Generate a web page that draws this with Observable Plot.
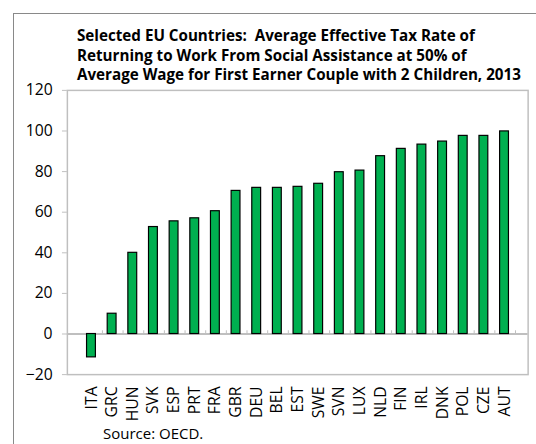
<!DOCTYPE html>
<html>
<head>
<meta charset="utf-8">
<script src="https://cdn.jsdelivr.net/npm/d3@7"></script>
<script src="https://cdn.jsdelivr.net/npm/@observablehq/plot@0.6"></script>
<style>
  html, body { margin: 0; padding: 0; background: #fff; }
  #wrap { position: relative; width: 536px; height: 444px; overflow: hidden; background: #fff; font-family: "Open Sans", sans-serif; }
  #outer { position: absolute; left: 13px; top: 13px; width: 600px; height: 500px; border: 1px solid #898989; box-sizing: border-box; }
  #title { position: absolute; left: 77px; top: 26px; font-weight: bold; font-size: 15.2px; line-height: 19.5px; color: #000; white-space: nowrap; }
  #chart { position: absolute; left: 0; top: 84px; }
  #source { position: absolute; left: 103px; top: 425px; font-size: 15px; line-height: 17px; color: #000; white-space: nowrap; }
</style>
</head>
<body>
<div id="wrap">
  <div id="outer"></div>
  <div id="title">Selected EU Countries:&nbsp; Average Effective Tax Rate of<br>Returning to Work From Social Assistance at 50% of<br>Average Wage for First Earner Couple with 2 Children, 2013</div>
  <div id="chart"></div>
  <div id="source">Source: OECD.</div>
</div>
<script>
const countries = ["ITA","GRC","HUN","SVK","ESP","PRT","FRA","GBR","DEU","BEL","EST","SWE","SVN","LUX","NLD","FIN","IRL","DNK","POL","CZE","AUT"];
const values = [-11.5, 10, 40, 52.7, 55.5, 57, 60.5, 70.5, 72, 72, 72.5, 74, 79.7, 80.5, 87.6, 91.2, 93.3, 94.8, 97.6, 97.6, 99.8];
const yTicks = [-20, 0, 20, 40, 60, 80, 100, 120];

const data = countries.map((c, i) => ({country: c, value: values[i]}));

const W = 545, ML = 68, MR = 8.5;
const step = (W - ML - MR) / countries.length;

const chart = Plot.plot({
  width: W,
  height: 346,
  marginTop: 6,
  marginLeft: ML,
  marginRight: MR,
  marginBottom: 51,
  style: {fontFamily: "'Open Sans', sans-serif", fontSize: "16px", color: "#000", background: "transparent", overflow: "visible"},
  x: {domain: countries, padding: 0.58, label: null},
  y: {domain: [-20, 120], label: null},
  marks: [
    Plot.frame({stroke: "#bfbfbf", strokeWidth: 1.5}),
    Plot.ruleY([0], {stroke: "#bfbfbf", strokeWidth: 2}),
    Plot.ruleX(countries, {x: d => d, y1: 0, y2: 1.6, dx: step / 2, stroke: "#bfbfbf", strokeWidth: 1}),
    Plot.barY(data, {x: "country", y: "value", fill: "#00b050", stroke: "#000", strokeWidth: 1.2}),
    Plot.axisY({ticks: yTicks, tickSize: 5, tickPadding: 10, stroke: "#bfbfbf", label: null}),
    Plot.axisX({tickSize: 0, tickRotate: -90, tickPadding: 12, label: null})
  ]
});
document.getElementById("chart").appendChild(chart);
</script>
</body>
</html>
